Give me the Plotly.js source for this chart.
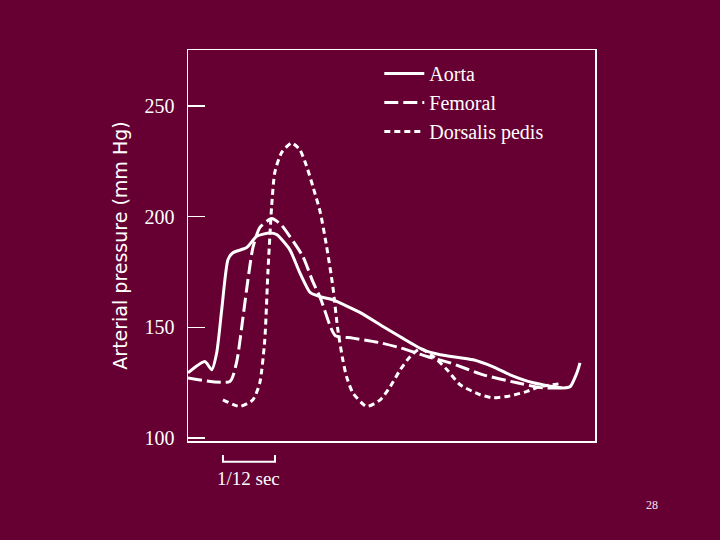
<!DOCTYPE html>
<html><head><meta charset="utf-8">
<script src="https://cdn.plot.ly/plotly-3.0.1.min.js"></script>
<style>html,body{margin:0;padding:0;background:#660033;}#chart{width:720px;height:540px;}</style>
</head><body><div id="chart"></div>
<script>
// time in ms, pressure in mm Hg
var aortaT = [0,27,38,46,54,64,72,94,110,131,142,163,179,196,212,232,276,313,340,377,404,457,489,516,553,601,612,623,628];
var aortaP = [129.4,134.5,130.8,138.5,157.9,180.5,183.7,186.0,191.1,192.6,191.9,185.1,174.7,165.6,163.8,162.4,156.6,150.2,145.7,139.8,137.6,135.3,132.1,128.5,124.9,122.6,123.1,129.4,133.9];
var femoralT = [0,67,78,88,96,104,115,134,149,163,184,200,212,228,236,264,308,340,383,420,473,527,569,607];
var femoralP = [127.1,125.5,134.4,154.3,171.5,186.0,195.0,199.1,196.4,191.1,182.0,170.6,163.3,150.4,146.2,145.1,143.0,140.7,136.8,133.9,128.5,124.9,122.6,122.6];
var pedisT = [56,83,104,115,123,128,134,139,150,166,179,190,200,212,222,232,240,248,254,264,286,308,324,340,356,372,393,415,436,468,489,516,543,564,596];
var pedisP = [117.2,114.2,117.2,124.9,144.3,174.7,204.7,219.9,229.0,233.3,230.3,222.8,213.7,201.8,186.6,168.5,148.9,135.3,127.7,120.4,114.2,117.2,123.2,130.8,136.8,140.3,136.8,130.8,124.0,119.5,118.1,119.0,121.0,123.2,124.4];
var seriesNames = ["Aorta","Femoral","Dorsalis pedis"];
var yTicks = [100,150,200,250];
var scaleBarStart = 56, scaleBarLen = 1000/12;
var scaleLabel = "1/12 sec";
var slideNo = "28";

var W = '#ffffff', BG = '#660033';
var serif = '"Liberation Serif", "DejaVu Serif", serif';
function tr(t,p,name,dash){return {x:t,y:p,name:name,mode:'lines',type:'scatter',
  line:{color:W,width:3,dash:dash,shape:'spline',smoothing:0.6},hoverinfo:'skip'};}
var data = [tr(aortaT,aortaP,seriesNames[0],'solid'),
            tr(femoralT,femoralP,seriesNames[1],'14px,5px'),
            tr(pedisT,pedisP,seriesNames[2],'6px,4px')];
var layout = {
  width:720,height:540,paper_bgcolor:BG,plot_bgcolor:BG,
  margin:{l:188,r:125,t:50,b:99},
  showlegend:true,
  legend:{x:0.47,y:0.99,xanchor:'left',yanchor:'top',bgcolor:'rgba(0,0,0,0)',
    font:{family:serif,size:20,color:W},tracegroupgap:0,itemwidth:40},
  xaxis:{range:[0,652],showgrid:false,zeroline:false,showticklabels:false,ticks:'',
    showline:true,linecolor:W,linewidth:1.5,mirror:true,fixedrange:true},
  yaxis:{range:[98.6,275.3],showgrid:false,zeroline:false,tickvals:yTicks,
    ticktext:yTicks.map(String),ticks:'inside',ticklen:17,tickwidth:1.2,tickcolor:W,
    showline:true,linecolor:W,linewidth:1.5,mirror:true,
    tickfont:{family:serif,size:20,color:W},ticklabelstandoff:8,
    title:{text:'Arterial pressure (mm Hg)',font:{family:'"DejaVu Sans", sans-serif',size:19,color:W},standoff:12}},
  shapes:[{type:'path',xref:'x',yref:'paper',
    path:'M '+scaleBarStart+' -0.036 L '+scaleBarStart+' -0.053 L '+(scaleBarStart+scaleBarLen)+' -0.053 L '+(scaleBarStart+scaleBarLen)+' -0.036',
    line:{color:W,width:2}}],
  annotations:[
    {xref:'x',yref:'paper',x:scaleBarStart+scaleBarLen/2,y:-(478-441)/391,yanchor:'middle',xanchor:'center',
     text:scaleLabel,showarrow:false,font:{family:serif,size:19,color:W}},
    {xref:'paper',yref:'paper',x:(652-188)/407,y:-(505-441)/391,yanchor:'middle',xanchor:'center',
     text:slideNo,showarrow:false,font:{family:serif,size:12,color:'#ffe0f0'}}
  ]
};
Plotly.newPlot('chart',data,layout,{staticPlot:true});
</script></body></html>
